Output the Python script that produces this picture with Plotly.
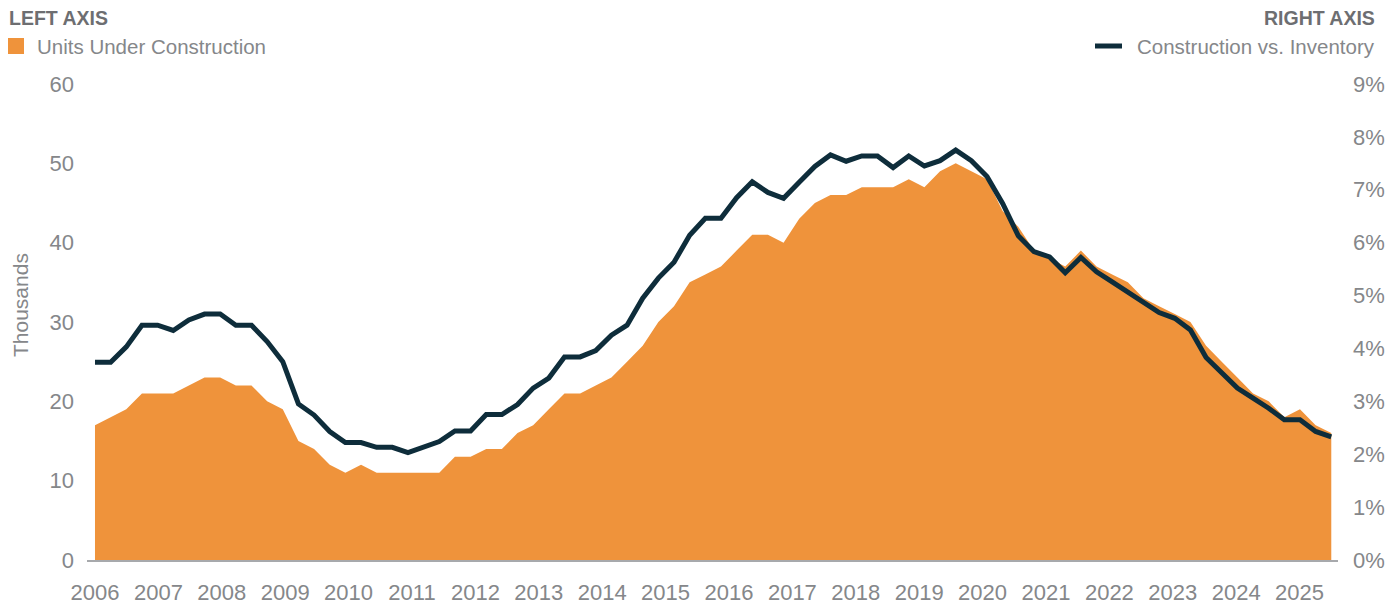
import numpy as np
import plotly.graph_objects as go

# ---------------- data ----------------
# 80 evenly spaced observations running from the start of 2006 to mid-2025
period_years = np.linspace(2006.0, 2025.5, 80)

units_under_construction_k = [
    17, 18, 19, 21, 21, 21, 22, 23, 23, 22, 22, 20, 19, 15, 14, 12,
    11, 12, 11, 11, 11, 11, 11, 13, 13, 14, 14, 16, 17, 19, 21, 21,
    22, 23, 25, 27, 30, 32, 35, 36, 37, 39, 41, 41, 40, 43, 45, 46,
    46, 47, 47, 47, 48, 47, 49, 50, 49, 48, 44, 42, 39, 38, 37, 39,
    37, 36, 35, 33, 32, 31, 30, 27, 25, 23, 21, 20, 18, 19, 17, 16,
]

construction_vs_inventory_pct = [
    3.74, 3.74, 4.03, 4.44, 4.44, 4.34, 4.54, 4.65, 4.65, 4.44, 4.44, 4.13, 3.75, 2.95, 2.74, 2.43,
    2.22, 2.22, 2.13, 2.13, 2.03, 2.14, 2.24, 2.44, 2.44, 2.75, 2.75, 2.94, 3.25, 3.44, 3.84, 3.84,
    3.96, 4.25, 4.44, 4.95, 5.33, 5.63, 6.14, 6.46, 6.46, 6.85, 7.15, 6.95, 6.84, 7.14, 7.44, 7.66,
    7.54, 7.64, 7.64, 7.42, 7.64, 7.45, 7.55, 7.75, 7.55, 7.25, 6.74, 6.13, 5.83, 5.73, 5.43, 5.72,
    5.45, 5.26, 5.07, 4.88, 4.68, 4.57, 4.35, 3.83, 3.55, 3.25, 3.06, 2.87, 2.65, 2.65, 2.43, 2.33,
]

left_ticks = [0, 10, 20, 30, 40, 50, 60]
right_ticks = [0, 1, 2, 3, 4, 5, 6, 7, 8, 9]
right_labels = [f"{v}%" for v in right_ticks]
year_ticks = list(range(2006, 2026))
year_labels = [str(y) for y in year_ticks]

# ---------------- style ----------------
ORANGE = "#EF933B"
NAVY = "#0E2D3B"
GRAY = "#85878A"
HEAD = "#6D6E71"
FONT = "Liberation Sans, Arial, sans-serif"

# the page adds an 8px body margin; the figure is sized to the remaining window
OFF = 8
W, H = 1397 - OFF, 606 - OFF
# plot area in window pixels: x 87..1338, y 84..560
L, R, T, B = 87 - OFF, 1397 - 1338, 84 - OFF, 606 - 560
PW, PH = W - L - R, H - T - B


def px_x(px):
    """window pixel x -> paper x"""
    return (px - OFF - L) / PW


def px_y(py):
    """window pixel y -> paper y"""
    return (H - B - (py - OFF)) / PH


fig = go.Figure()

fig.add_trace(go.Scatter(
    x=period_years, y=units_under_construction_k,
    mode="none", fill="tozeroy", fillcolor=ORANGE,
    name="Units Under Construction", showlegend=False,
))
fig.add_trace(go.Scatter(
    x=period_years, y=construction_vs_inventory_pct,
    mode="lines", line=dict(color=NAVY, width=5),
    name="Construction vs. Inventory", yaxis="y2", showlegend=False,
))

legend_y = 46
fig.update_layout(
    width=W, height=H,
    margin=dict(l=L, r=R, t=T, b=B, pad=0, autoexpand=False),
    paper_bgcolor="white", plot_bgcolor="white",
    font=dict(family=FONT, color=GRAY, size=22),
    showlegend=False,
    xaxis=dict(
        range=[2005.874, 2025.606],
        tickvals=year_ticks, ticktext=year_labels, tickangle=0,
        showgrid=False, zeroline=False,
        showline=True, linecolor="#A7A9AC", linewidth=1.5,
        ticks="", tickfont=dict(size=22, color=GRAY),
        ticklabelstandoff=12, automargin=False,
    ),
    yaxis=dict(
        range=[0, 60], tickvals=left_ticks,
        showgrid=False, zeroline=False, showline=False, ticks="",
        tickfont=dict(size=22, color=GRAY),
        ticklabelstandoff=12, automargin=False,
    ),
    yaxis2=dict(
        range=[0, 9], tickvals=right_ticks, ticktext=right_labels,
        overlaying="y", side="right",
        showgrid=False, zeroline=False, showline=False, ticks="",
        tickfont=dict(size=22, color=GRAY),
        ticklabelstandoff=14, automargin=False,
    ),
    shapes=[
        # legend swatches
        dict(type="rect", xref="paper", yref="paper",
             x0=px_x(8), x1=px_x(24), y0=px_y(legend_y - 8), y1=px_y(legend_y + 8),
             fillcolor=ORANGE, line=dict(width=0)),
        dict(type="line", xref="paper", yref="paper",
             x0=px_x(1095), x1=px_x(1122), y0=px_y(legend_y), y1=px_y(legend_y),
             line=dict(color=NAVY, width=5)),
    ],
    annotations=[
        dict(text="<b>LEFT AXIS</b>", xref="paper", yref="paper",
             x=px_x(7), y=px_y(18), xanchor="left", yanchor="middle",
             showarrow=False, font=dict(size=19.5, color=HEAD, family=FONT)),
        dict(text="<b>RIGHT AXIS</b>", xref="paper", yref="paper",
             x=px_x(1377), y=px_y(18), xanchor="right", yanchor="middle",
             showarrow=False, font=dict(size=19.5, color=HEAD, family=FONT)),
        dict(text="Units Under Construction", xref="paper", yref="paper",
             x=px_x(35), y=px_y(legend_y), xanchor="left", yanchor="middle",
             showarrow=False, font=dict(size=20.5, color=GRAY, family=FONT)),
        dict(text="Construction vs. Inventory", xref="paper", yref="paper",
             x=px_x(1377), y=px_y(legend_y), xanchor="right", yanchor="middle",
             showarrow=False, font=dict(size=20.5, color=GRAY, family=FONT)),
        dict(text="Thousands", xref="paper", yref="paper", textangle=-90,
             x=px_x(20), y=px_y(305), xanchor="center", yanchor="middle",
             showarrow=False, font=dict(size=21, color=GRAY, family=FONT)),
    ],
    hovermode="x unified",
)

fig.write_html("out.html")
